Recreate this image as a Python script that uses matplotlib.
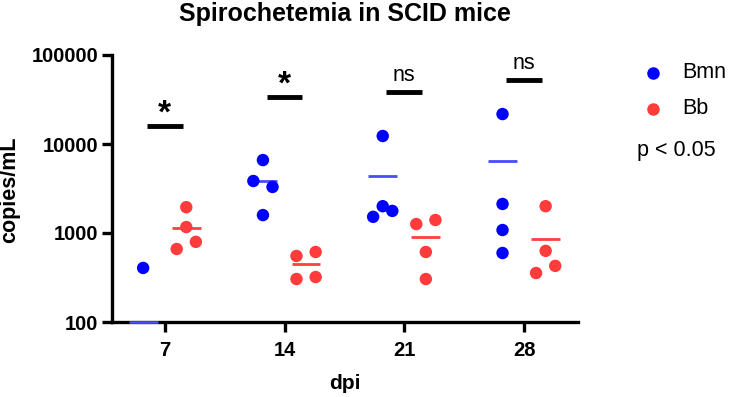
import numpy as np
import matplotlib

matplotlib.use("Agg")
import matplotlib.pyplot as plt

plt.rcParams["font.family"] = ["Liberation Sans", "DejaVu Sans"]

DAYS = ["7", "14", "21", "28"]
BMN_VALUES = [
    [405, 0, 0, 0],
    [6600, 3840, 3290, 1590],
    [12300, 2000, 1770, 1520],
    [21700, 2120, 1080, 596],
]
BB_VALUES = [
    [1950, 1166, 795, 661],
    [552, 612, 304, 320],
    [1260, 1400, 612, 304],
    [2000, 630, 427, 355],
]
# horizontal scatter offsets within each group (same order as values)
BMN_JITTER = [
    [0.0, 0.0, 0.0, 0.0],
    [0.0, -0.08, 0.08, 0.0],
    [0.0, 0.0, 0.08, -0.08],
    [0.0, 0.0, 0.0, 0.0],
]
BB_JITTER = [
    [0.0, 0.0, 0.08, -0.08],
    [-0.08, 0.08, -0.08, 0.08],
    [-0.08, 0.08, 0.0, 0.0],
    [0.0, 0.0, 0.08, -0.08],
]
SIG_LABELS = ["*", "*", "ns", "ns"]
SIG_HEIGHTS = [15900, 33800, 38400, 52400]

BMN_COLOR = "#0000ff"
BB_COLOR = "#ff3b3b"
BMN_LINE = "#4a4aff"
BB_LINE = "#ff4040"

fig = plt.figure(figsize=(7.29, 3.97), dpi=100)
ax = fig.add_axes([112 / 729, 1 - 322 / 397, (578 - 112) / 729, (322 - 55) / 397])

off = 0.18
for i, day in enumerate(DAYS):
    for vals, jit, sign, col, lcol in [
        (BMN_VALUES[i], BMN_JITTER[i], -1, BMN_COLOR, BMN_LINE),
        (BB_VALUES[i], BB_JITTER[i], 1, BB_COLOR, BB_LINE),
    ]:
        xs = [i + sign * off + j for v, j in zip(vals, jit) if v > 0]
        ys = [v for v in vals if v > 0]
        ax.scatter(xs, ys, s=80, color=col, edgecolors="none", zorder=4, clip_on=False)
        mean = max(np.mean(vals), 100)
        ax.plot([i + sign * off - 0.12, i + sign * off + 0.12], [mean, mean],
                color=lcol, lw=2, zorder=3, solid_capstyle="butt", clip_on=False)

    ax.plot([i - 0.15, i + 0.15], [SIG_HEIGHTS[i]] * 2, color="black", lw=3.5,
            solid_capstyle="butt", clip_on=False)
    if SIG_LABELS[i] == "*":
        ax.text(i, SIG_HEIGHTS[i] * 0.92, "*", ha="center", va="bottom",
                fontsize=24, fontweight="bold")
    else:
        ax.text(i, SIG_HEIGHTS[i] * 1.18, "ns", ha="center", va="bottom", fontsize=15.5)

ax.set_yscale("log")
ax.set_ylim(100, 100000)
ax.set_xlim(-0.44, 3.45)
ax.set_yticks([100, 1000, 10000, 100000])
ax.set_yticklabels(["100", "1000", "10000", "100000"])
ax.minorticks_off()
ax.set_xticks(range(len(DAYS)))
ax.set_xticklabels(DAYS)
for lab in ax.get_xticklabels() + ax.get_yticklabels():
    lab.set_fontweight("bold")
    lab.set_fontsize(14.5)

ax.spines["top"].set_visible(False)
ax.spines["right"].set_visible(False)
ax.spines["left"].set_linewidth(2.4)
ax.spines["bottom"].set_linewidth(2.4)
ax.tick_params(width=2.4, length=7)
ax.tick_params(axis="x", pad=7)
ax.tick_params(axis="y", pad=3)

ax.set_ylabel("copies/mL", fontsize=15.5, fontweight="bold")
ax.yaxis.set_label_coords(-0.219, 0.496)
ax.yaxis.label.set_va("center")
ax.set_xlabel("dpi", fontsize=15, fontweight="bold")
ax.xaxis.set_label_coords(0.5, -0.232)
ax.xaxis.label.set_va("center")
fig.text(345 / 729, 1 - 14 / 397, "Spirochetemia in SCID mice", ha="center", va="center",
         fontsize=18, fontweight="bold")

# legend
fig.lines.append(plt.Line2D([653 / 729], [1 - 73 / 397], marker="o", ms=8, color=BMN_COLOR,
                            ls="none", transform=fig.transFigure))
fig.lines.append(plt.Line2D([653 / 729], [1 - 109 / 397], marker="o", ms=8, color=BB_COLOR,
                            ls="none", transform=fig.transFigure))
fig.text(682 / 729, 1 - 73 / 397, "Bmn", va="center", fontsize=15.5)
fig.text(682 / 729, 1 - 109 / 397, "Bb", va="center", fontsize=15.5)
fig.text(637 / 729, 1 - 151 / 397, "p < 0.05", va="center", fontsize=15.5)

fig.savefig("out.png", dpi=100)
